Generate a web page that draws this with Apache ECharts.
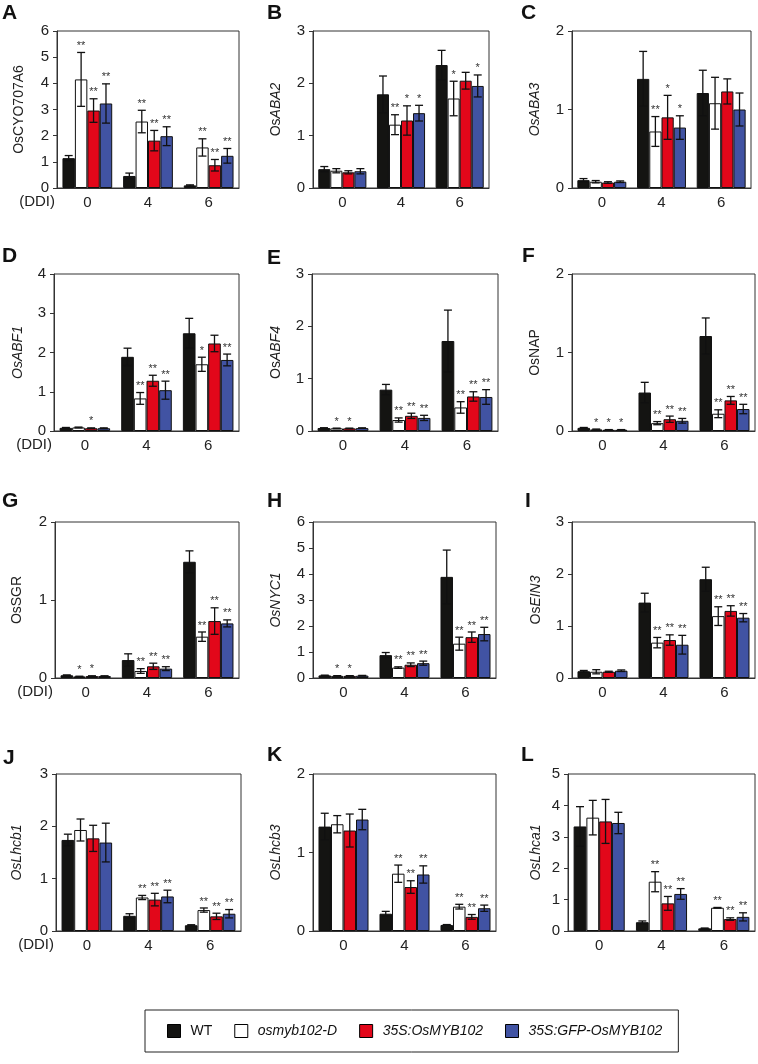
<!DOCTYPE html>
<html><head><meta charset="utf-8">
<script src="https://cdn.jsdelivr.net/npm/echarts@6/dist/echarts.min.js"></script>
<style>html,body{margin:0;padding:0;background:#fff}#c{width:758px;height:1064px}</style>
</head><body><div id="c"></div>
<script>
// ---------- DATA ----------
const categories = ['0', '4', '6'];
const genotypes = ['WT', 'osmyb102-D', '35S:OsMYB102', '35S:GFP-OsMYB102'];
const panelLetters = ['A','B','C','D','E','F','G','H','I','J','K','L'];
const geneNames = ['OsCYO707A6','OsABA2','OsABA3','OsABF1','OsABF4','OsNAP','OsSGR','OsNYC1','OsEIN3','OsLhcb1','OsLhcb3','OsLhca1'];
const geneStyle = ['u','m','i','i','m','u','u','i','m','i','i','i'];
const yMax = [6,3,2,4,3,2,2,6,3,3,2,5];

// means per genotype [WT, osmyb102-D, 35S:OsMYB102, 35S:GFP-OsMYB102], each over categories 0,4,6
const meanA = [[1.14,0.46,0.10],[4.15,2.54,1.55],[2.96,1.81,0.87],[3.23,1.98,1.23]];
const errA  = [[0.10,0.11,0.02],[1.03,0.43,0.33],[0.45,0.39,0.22],[0.75,0.36,0.28]];
const sigA  = [['','',''],['**','**','**'],['**','**','**'],['**','**','**']];

const meanB = [[0.36,1.79,2.35],[0.33,1.21,1.71],[0.30,1.29,2.05],[0.32,1.43,1.95]];
const errB  = [[0.05,0.35,0.28],[0.04,0.19,0.33],[0.03,0.28,0.16],[0.05,0.15,0.21]];
const sigB  = [['','',''],['','**','*'],['','*',''],['','*','*']];

const meanC = [[0.10,1.39,1.21],[0.08,0.72,1.08],[0.07,0.90,1.23],[0.08,0.77,1.00]];
const errC  = [[0.02,0.35,0.29],[0.015,0.19,0.33],[0.01,0.28,0.16],[0.01,0.15,0.21]];
const sigC  = [['','',''],['','**',''],['','*',''],['','*','']];

const meanD = [[0.08,1.89,2.49],[0.09,0.83,1.70],[0.07,1.28,2.23],[0.07,1.04,1.81]];
const errD  = [[0.01,0.22,0.38],[0.01,0.15,0.18],[0.01,0.14,0.21],[0.01,0.23,0.15]];
const sigD  = [['','',''],['','**','*'],['*','**',''],['','**','**']];

const meanE = [[0.057,0.79,1.72],[0.05,0.21,0.45],[0.05,0.29,0.66],[0.055,0.25,0.65]];
const errE  = [[0.005,0.10,0.59],[0.005,0.04,0.11],[0.005,0.05,0.09],[0.005,0.05,0.14]];
const sigE  = [['','',''],['*','**','**'],['*','**','**'],['','**','**']];

const meanF = [[0.04,0.49,1.21],[0.02,0.10,0.22],[0.015,0.15,0.39],[0.015,0.13,0.28]];
const errF  = [[0.005,0.13,0.23],[0.005,0.02,0.05],[0.003,0.04,0.05],[0.003,0.03,0.06]];
const sigF  = [['','',''],['*','**','**'],['*','**','**'],['*','**','**']];

const meanG = [[0.035,0.23,1.49],[0.02,0.09,0.53],[0.025,0.15,0.73],[0.025,0.12,0.70]];
const errG  = [[0.005,0.08,0.14],[0.003,0.03,0.06],[0.003,0.04,0.17],[0.003,0.025,0.045]];
const sigG  = [['','',''],['*','**','**'],['*','**','**'],['','**','**']];

const meanH = [[0.10,0.88,3.89],[0.08,0.40,1.32],[0.08,0.51,1.57],[0.09,0.57,1.69]];
const errH  = [[0.01,0.10,1.03],[0.01,0.03,0.25],[0.01,0.07,0.20],[0.01,0.08,0.26]];
const sigH  = [['','',''],['*','**','**'],['*','**','**'],['','**','**']];

const meanI = [[0.13,1.45,1.90],[0.12,0.68,1.19],[0.12,0.73,1.29],[0.14,0.64,1.16]];
const errI  = [[0.015,0.18,0.23],[0.04,0.10,0.18],[0.01,0.10,0.10],[0.015,0.18,0.08]];
const sigI  = [['','',''],['','**','**'],['','**','**'],['','**','**']];

const meanJ = [[1.74,0.29,0.11],[1.93,0.64,0.40],[1.77,0.60,0.28],[1.69,0.66,0.33]];
const errJ  = [[0.11,0.04,0.01],[0.21,0.04,0.04],[0.25,0.12,0.06],[0.37,0.12,0.08]];
const sigJ  = [['','',''],['','**','**'],['','**','**'],['','**','**']];

const meanK = [[1.33,0.22,0.077],[1.36,0.73,0.31],[1.28,0.56,0.18],[1.42,0.72,0.29]];
const errK  = [[0.17,0.03,0.005],[0.11,0.11,0.03],[0.21,0.08,0.03],[0.13,0.11,0.04]];
const sigK  = [['','',''],['','**','**'],['','**','**'],['','**','**']];

const meanL = [[3.33,0.28,0.085],[3.61,1.57,0.74],[3.49,0.88,0.38],[3.44,1.18,0.45]];
const errL  = [[0.63,0.04,0.01],[0.55,0.32,0.01],[0.70,0.22,0.04],[0.34,0.17,0.13]];
const sigL  = [['','',''],['','**','**'],['','**','**'],['','**','**']];

const means = [meanA,meanB,meanC,meanD,meanE,meanF,meanG,meanH,meanI,meanJ,meanK,meanL];
const errs  = [errA,errB,errC,errD,errE,errF,errG,errH,errI,errJ,errK,errL];
const sigs  = [sigA,sigB,sigC,sigD,sigE,sigF,sigG,sigH,sigI,sigJ,sigK,sigL];

// ---------- LAYOUT ----------
const FONT = '"Liberation Sans", Arial, sans-serif';
const TICK_FS = 15;
const colors = ['#141412', '#ffffff', '#e2071a', '#4153a3'];
const CAT_GAP = 0.18;
const grids = [[57,31,182,157],[313,31,176,157],[572,31,179,157],
               [54,274,185,157],[312,274,186,157],[572,274,183,157],
               [55,522,184,156],[313,522,183,156],[572,522,183,156],
               [56,774,185,157],[313,774,183,157],[568,774,187,157]];
const nameGaps = [31,30,30,29,29,30,31,30,29,32,30,25];
const letterPos = [[2,14],[267,14],[521,14],[2,257],[267,259],[522,257],[2,502],[267,502],[525,502],[3,759],[267,756],[521,756]];

function richName(n, s){
  if (s === 'u') return '{u|' + n + '}';
  if (s === 'i') return '{i|' + n + '}';
  return '{u|' + n.slice(0,2) + '}{i|' + n.slice(2) + '}';
}

const chart = echarts.init(document.getElementById('c'), null, {renderer:'canvas'});
const option = {
  animation: false,
  textStyle: {fontFamily: FONT},
  grid: [], xAxis: [], yAxis: [], series: [], graphic: [],
  legend: {
    data: genotypes, left: 145, top: 1010, orient: 'horizontal',
    padding: [14, 16, 14, 22], itemGap: 22, itemWidth: 13, itemHeight: 13,
    borderColor: '#222', borderWidth: 1, selectedMode: false, icon: 'rect',
    itemStyle: {borderColor: '#000', borderWidth: 1},
    textStyle: {fontSize: 14, color: '#111', fontFamily: FONT, padding: [0,0,0,5],
      rich: {n: {fontSize: 14, fontFamily: FONT, color: '#111'}, it: {fontSize: 14, fontStyle: 'italic', fontFamily: FONT, color: '#111'}}},
    formatter: function(n){ return n === 'WT' ? '{n|WT}' : '{it|' + n + '}'; }
  }
};

for (let p = 0; p < 12; p++) {
  const [l, t, w, h] = grids[p];
  option.grid.push({left: l, top: t, width: w, height: h, show: true, borderColor: '#333', borderWidth: 1, backgroundColor: 'transparent'});
  option.xAxis.push({
    type: 'category', gridIndex: p, data: categories,
    axisLine: {lineStyle: {color: '#333', width: 1}}, axisTick: {show: false},
    axisLabel: {fontSize: TICK_FS, color: '#222', margin: 7, fontFamily: FONT}
  });
  option.yAxis.push({
    type: 'value', gridIndex: p, min: 0, max: yMax[p], interval: 1,
    splitLine: {show: false},
    axisLine: {show: true, lineStyle: {color: '#333', width: 1}},
    axisTick: {show: true, length: 4, lineStyle: {color: '#333'}},
    axisLabel: {fontSize: TICK_FS, color: '#222', margin: 8, fontFamily: FONT},
    name: richName(geneNames[p], geneStyle[p]), nameLocation: 'middle', nameGap: nameGaps[p], nameRotate: 90,
    nameTextStyle: {fontSize: 14, color: '#222', fontFamily: FONT,
      rich: {u: {fontSize: 14, fontFamily: FONT, color: '#222'}, i: {fontSize: 14, fontStyle: 'italic', fontFamily: FONT, color: '#222'}}}
  });
  for (let g = 0; g < 4; g++) {
    option.series.push({
      type: 'bar', name: genotypes[g], xAxisIndex: p, yAxisIndex: p,
      data: means[p][g], barGap: '0%', barCategoryGap: (CAT_GAP*100) + '%',
      itemStyle: {color: colors[g], borderColor: '#111', borderWidth: 1},
      silent: true
    });
  }
  const rows = [], rowSig = [];
  for (let g = 0; g < 4; g++) for (let c = 0; c < 3; c++) {
    rows.push([c, g, means[p][g][c], errs[p][g][c]]);
    rowSig.push(sigs[p][g][c]);
  }
  option.series.push({
    type: 'custom', xAxisIndex: p, yAxisIndex: p, z: 10, silent: true,
    data: rows, encode: {x: 0, y: 2},
    renderItem: function(params, api){
      const c = api.value(0), g = api.value(1), m = api.value(2), e = api.value(3);
      const band = api.size([1, 0])[0];
      const bw = band * (1 - CAT_GAP) / 4;
      const x = api.coord([c, 0])[0] + (g - 1.5) * bw;
      const yT = api.coord([c, m + e])[1];
      const yB = api.coord([c, Math.max(0, m - e)])[1];
      const hc = 4;
      const st = {stroke: '#111', lineWidth: 1.3};
      const ch = [
        {type: 'line', shape: {x1: x, y1: yT, x2: x, y2: yB}, style: st},
        {type: 'line', shape: {x1: x - hc, y1: yT, x2: x + hc, y2: yT}, style: st},
        {type: 'line', shape: {x1: x - hc, y1: yB, x2: x + hc, y2: yB}, style: st}
      ];
      const s = rowSig[params.dataIndex];
      if (s) ch.push({type: 'text', style: {text: s, x: x, y: yT - 1, align: 'center', verticalAlign: 'bottom', fontSize: 11, fill: '#333', fontFamily: FONT}});
      return {type: 'group', children: ch};
    }
  });
  option.graphic.push({type: 'text', left: letterPos[p][0], top: letterPos[p][1] - 11,
    style: {text: panelLetters[p], fontSize: 21, fontWeight: 'bold', fill: '#111', fontFamily: FONT}});
  if (p % 3 === 0) {
    option.graphic.push({type: 'text', x: l - 2, y: t + h + 14,
      style: {text: '(DDI)', fontSize: TICK_FS, fill: '#222', fontFamily: FONT, align: 'right', verticalAlign: 'middle'}});
  }
}
chart.setOption(option);
</script>
</body></html>
